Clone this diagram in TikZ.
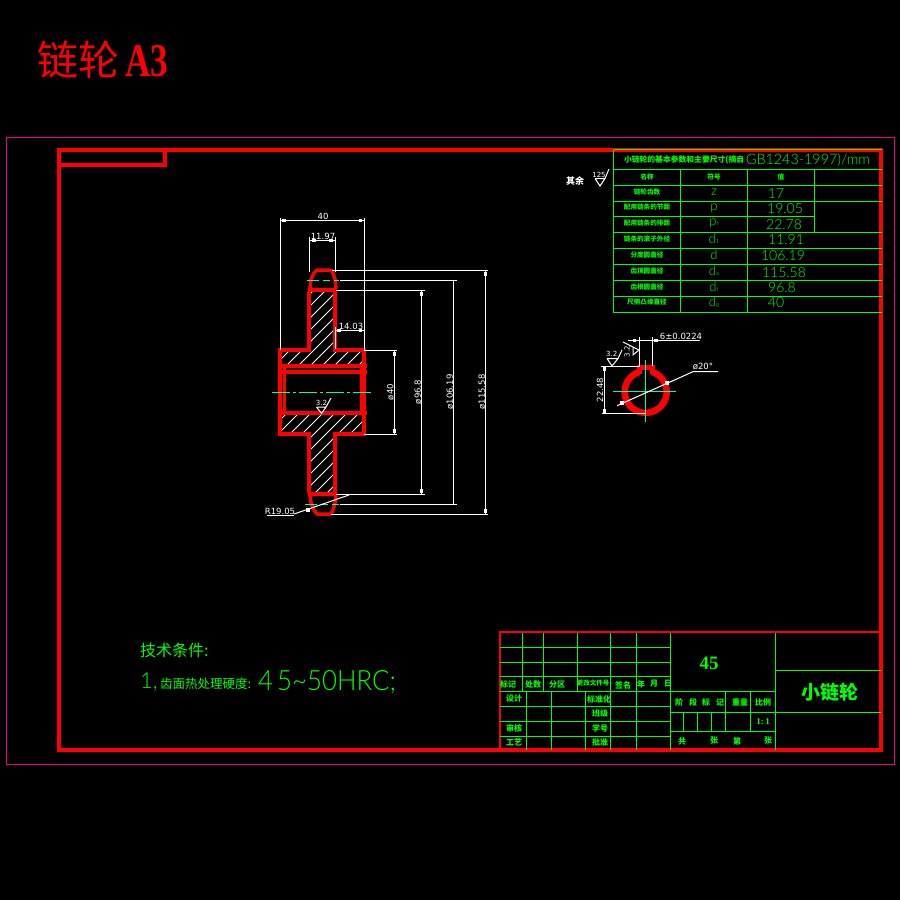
\documentclass[tikz,border=0pt]{standalone}
\usepackage{fontspec}
\setmainfont{DejaVu Sans}
\newfontfamily\cjk{Noto Sans CJK SC}
\newfontfamily\lib{Liberation Sans}
\newfontfamily\libs{Liberation Serif}
\newfontfamily\thin{Lato Light}
\newcount\nn
\newcommand\fs[1]{\fontsize{#1}{#1}\selectfont}
\newcommand\lab[3][]{\global\advance\nn by 1 \node[lbl,#1] (n\the\nn) at (#2) {#3};}
\newcommand\sq[1]{\fill[white] (#1) +(-1.6,-1.6) rectangle +(1.6,1.6);}
\definecolor{cgreen}{RGB}{0,255,0}
\definecolor{cl}{RGB}{0,255,170}
\tikzset{
 lbl/.style={inner sep=0pt,outer sep=0pt,text=white},
 gt/.style={lbl,text=cgreen},
 rd/.style={draw=red,line width=4pt},
 rdt/.style={draw=red,line width=6.5pt},
 wl/.style={draw=white,line width=1pt},
 gl/.style={draw=cgreen,line width=1.1pt},
 cline/.style={draw=cl,line width=1pt,dash pattern=on 18pt off 3pt on 3pt off 3pt},
 dimt/.style={lbl,font=\fs{8.5}},
 tname/.style={gt,font=\cjk\bfseries\fs{6.6}},
 tsym/.style={gt,font=\thin\fs{13}},
 tval/.style={gt,font=\thin\fs{14}},
 tb/.style={gt,font=\cjk\bfseries\fs{8}},
}
\begin{document}
\begin{tikzpicture}[x=1pt,y=-1pt]
\useasboundingbox (0,0) rectangle (900,900);
\fill[black] (0,0) rectangle (900,900);
% title
\lab[gt,text=red,anchor=west,font=\cjk\fs{41}]{37,60}{链轮}
\lab[gt,text=red,anchor=west]{125,61}{\resizebox{43pt}{31pt}{\libs\bfseries A3}}
% borders
\draw[draw=magenta,line width=1pt] (6.5,137.5) rectangle (894.5,764.5);
\draw[rd] (59,150) rectangle (881,750);
\draw[rd] (59,165) -- (165,165) -- (165,150);
% hatching
\begin{scope}
\clip (282,352) rectangle (362,366) (311,292) rectangle (333,352) (282,414) rectangle (362,432) (311,414) rectangle (333,492);
\foreach \k in {580,592,...,900}{\draw[white,line width=0.9pt] (\k-400,400) ++(-200,200) -- ++(400,-400);}
\end{scope}
% part outline
\draw[rd] (309,292) -- (309,350) -- (280,350) (335,292) -- (335,350) -- (364,350);
\draw[rd] (280,348) -- (280,434) -- (309,434) -- (309,493);
\draw[rd] (364,348) -- (364,434) -- (335,434) -- (335,493);
\draw[rd] (308,290) -- (337,290) (278,366) -- (367,366) (280,372) -- (367,372) (280,413) -- (367,413) (308,494) -- (337,494);
\draw[draw=red,line width=3pt] (284,366) -- (284,413) (361,366) -- (361,413);
\draw[draw=red,line width=3.5pt,line join=round] (310,289) -- (311,279) -- (314,273) -- (317,270) -- (331,270) -- (333,273) -- (335,279) -- (336,289);
\draw[draw=red,line width=3.5pt,line join=round] (310,495) -- (311,503) -- (314,510) -- (317,514) -- (331,514) -- (333,510) -- (335,503) -- (336,495);
% centre lines
\draw[cline] (272,392.5) -- (372,392.5);
\draw[draw=cl,line width=1pt,dash pattern=on 12pt off 4pt on 7pt off 4pt] (307,280.5) -- (339,280.5) (305,504.5) -- (339,504.5);
% dimensions, front view
\draw[wl] (280.5,218) -- (280.5,350) (364.5,218) -- (364.5,350) (280.5,220.5) -- (364.5,220.5);
\sq{284,220.5}\sq{360.5,220.5}
\lab[dimt]{323,216.5}{40}
\draw[wl] (309.5,237) -- (309.5,272) (335.5,237) -- (335.5,272) (309.5,240.5) -- (335.5,240.5);
\sq{314,240.5}\sq{331,240.5}
\lab[dimt]{323,236}{11.97}
\draw[wl] (335.5,327) -- (335.5,349) (335.5,330.5) -- (364.5,330.5);
\sq{339,330.5}\sq{360.5,330.5}
\lab[dimt]{351,326.5}{14.03}
\draw[wl] (332,270.5) -- (488,270.5) (485.5,270.5) -- (485.5,514.5) (331,514.5) -- (488,514.5);
\sq{485.5,274}\sq{485.5,511}
\draw[wl] (340,280.5) -- (457,280.5) (453.5,280.5) -- (453.5,504.5) (340,504.5) -- (457,504.5);
\draw[wl] (336,290.5) -- (425,290.5) (421.5,290.5) -- (421.5,494.5) (336,494.5) -- (425,494.5);
\sq{421.5,294}\sq{421.5,491}
\draw[wl] (364,350.5) -- (397,350.5) (394.5,350.5) -- (394.5,434.5) (364,434.5) -- (397,434.5);
\sq{394.5,354}\sq{394.5,431}
\lab[dimt,rotate=90]{390.5,392}{ø40}
\lab[dimt,rotate=90]{418,392}{ø96.8}
\lab[dimt,rotate=90]{450,392}{ø106.19}
\lab[dimt,rotate=90]{482,392}{ø115.58}
\draw[wl] (349,495) -- (294,514);
\sq{308,510}
\lab[dimt]{280,511}{R19.05}
\draw[wl] (267,515.5) -- (294,515.5);
% roughness in bore
\lab[dimt,font=\fs{7}]{321.5,402.5}{3.2}
\draw[wl] (316.5,407) -- (326,407) -- (331,398) (316.5,407) -- (321.5,413.5) -- (326,407);
% remaining roughness
\lab[lbl,font=\cjk\bfseries\fs{9}]{575,181}{其余}
\lab[dimt,font=\fs{7}]{599,175}{125}
\draw[wl] (595,178.5) -- (605,178.5) -- (609,169) (595,178.5) -- (600,186) -- (605,178.5);
% section view
\draw[draw=red,line width=5pt] (639.5,374) -- (639.5,367) -- (652,367) -- (652,374);
\draw[rdt] (652.5,372) arc[start angle=-71,end angle=251,radius=21];
\draw[draw=cl,line width=1pt] (613,391.7) -- (676,391.7) (645.7,360) -- (645.7,422);
\draw[wl] (639.5,337) -- (639.5,366) (652,337) -- (652,366) (628,340.5) -- (700,340.5);
\sq{634.6,340.5}\sq{656,340.5}
\lab[dimt]{681,336}{6±0.0224}
\draw[wl] (601,366.5) -- (640,366.5) (602,413.5) -- (645,413.5) (604.5,366.5) -- (604.5,413.5);
\sq{604.5,369}\sq{604.5,411}
\lab[dimt,rotate=90]{600,390}{22.48}
\draw[wl] (617,405.7) -- (693,371.7) -- (718,371.7);
\sq{622,403}\sq{667,383}
\lab[dimt]{703,367}{ø20°}
\lab[dimt,font=\fs{7}]{611.7,354}{3.2}
\draw[wl] (607,358.5) -- (618,358.5) -- (622,350) (607,358.5) -- (612,366) -- (618,358.5);
\lab[dimt,font=\fs{7},rotate=90]{627,351.5}{3.2}
\draw[wl] (623,342) -- (633,347) -- (633,355) -- (639,350) -- (633,347);
% data table
\foreach \y in {149.5,169.5,185.5,201.5,232.5,248.5,264.5,280.5,296.5,312.5}{\draw[gl] (613.5,\y) -- (881.5,\y);}
\draw[gl] (613.5,216.5) -- (814.5,216.5);
\draw[gl] (613.5,149.5) -- (613.5,312.5) (680.5,169.5) -- (680.5,312.5) (747.5,169.5) -- (747.5,312.5) (814.5,169.5) -- (814.5,232.5);
\lab[gt,anchor=west,font=\cjk\bfseries\fs{7.8}]{624,160}{小链轮的基本参数和主要尺寸(摘自}
\lab[gt,anchor=west]{746,160}{\resizebox{124pt}{11pt}{\thin GB1243-1997)/mm}}
\lab[tname]{647,177}{名称}
\lab[tname]{714,177}{符号}
\lab[tname]{781,177}{值}
\lab[tname]{647,192}{链轮齿数}
\lab[tname]{647,207}{配用链条的节距}
\lab[tname]{647,223}{配用链条的排距}
\lab[tname]{647,239}{链条的滚子外径}
\lab[tname]{647,255}{分度圆直径}
\lab[tname]{647,271}{齿顶圆直径}
\lab[tname]{647,287}{齿根圆直径}
\lab[tname]{647,302}{尺侧凸缘直径}
\lab[tsym]{714,192}{z}
\lab[tsym]{714,208}{p}
\lab[tsym]{714,223.5}{p\raisebox{0pt}{\fs{6}t}}
\lab[tsym]{714,239}{d\raisebox{0pt}{\fs{6}1}}
\lab[tsym]{714,255}{d}
\lab[tsym]{714,271}{d\raisebox{0pt}{\fs{6}a}}
\lab[tsym]{714,287}{d\raisebox{0pt}{\fs{6}f}}
\lab[tsym]{714,302}{d\raisebox{0pt}{\fs{6}g}}
\lab[tval]{776,194}{17}
\lab[tval]{785,209}{19.05}
\lab[tval]{784,225}{22.78}
\lab[tval]{786,240}{11.91}
\lab[tval]{783,255.7}{106.19}
\lab[tval]{784,273}{115.58}
\lab[tval]{782,287.7}{96.8}
\lab[tval]{776,303}{40}
% technical notes
\lab[gt,anchor=west,font=\cjk\fs{16}]{140,650}{技术条件:}
\lab[gt,anchor=west,font=\thin\fs{22}]{140,682}{1,}
\lab[gt,anchor=west,font=\cjk\fs{12.5}]{160,684}{齿面热处理硬度:}
\lab[gt,anchor=west]{258,682}{\resizebox{138pt}{20pt}{\thin 4\,5\textasciitilde 50HRC;}}
% title block
\draw[rd,line width=2.2pt] (500,750) -- (500,632) -- (881,632);
\foreach \y in {647.5,662.5,676.5}{\draw[gl] (500,\y) -- (670.5,\y);}
\draw[gl] (500,691.5) -- (775.5,691.5);
\foreach \y in {706.5,721.5,736.5}{\draw[gl] (500,\y) -- (670.5,\y);}
\foreach \x in {522.5,543.5,577.5}{\draw[gl] (\x,633) -- (\x,691.5);}
\foreach \x in {610.5,636.5}{\draw[gl] (\x,633) -- (\x,750);}
\foreach \x in {526.5,551.5,585.5}{\draw[gl] (\x,691.5) -- (\x,750);}
\draw[gl] (670.5,633) -- (670.5,750) (775.5,633) -- (775.5,750);
\draw[gl] (670.5,712.5) -- (881,712.5) (670.5,731.5) -- (775.5,731.5) (775.5,670.5) -- (881,670.5);
\draw[gl] (725.5,691.5) -- (725.5,731.5) (750.5,691.5) -- (750.5,731.5);
\foreach \x in {683.5,697.5,711.5}{\draw[gl] (\x,712.5) -- (\x,731.5);}
\lab[gt,font=\libs\bfseries\fs{19}]{709,663}{45}
\lab[gt,font=\cjk\bfseries\fs{19}]{830,692}{小链轮}
\lab[tb]{508,684}{标记}
\lab[tb]{533,684}{处数}
\lab[tb]{557,684}{分区}
\lab[tb,font=\cjk\bfseries\fs{6.5}]{593,683}{更改文件号}
\lab[tb]{623,685}{签名}
\lab[tb]{641,684}{年}
\lab[tb]{654,684}{月}
\lab[tb]{668,684}{日}
\lab[tb]{514,698}{设计}
\lab[tb]{599,699}{标准化}
\lab[tb]{600,713}{班级}
\lab[tb]{514,728}{审核}
\lab[tb]{600,728}{学号}
\lab[tb]{514,742}{工艺}
\lab[tb]{600,742}{批准}
\lab[tb]{679,702}{阶}
\lab[tb]{693,702}{段}
\lab[tb]{706,702}{标}
\lab[tb]{720,702}{记}
\lab[tb]{740,702}{重量}
\lab[tb]{763,702}{比例}
\lab[tb,font=\libs\bfseries\fs{9}]{763,722}{1:\,1}
\lab[tb]{682,741}{共}
\lab[tb]{714,741}{张}
\lab[tb]{737,741}{第}
\lab[tb]{768,741}{张}
\end{tikzpicture}
\end{document}
